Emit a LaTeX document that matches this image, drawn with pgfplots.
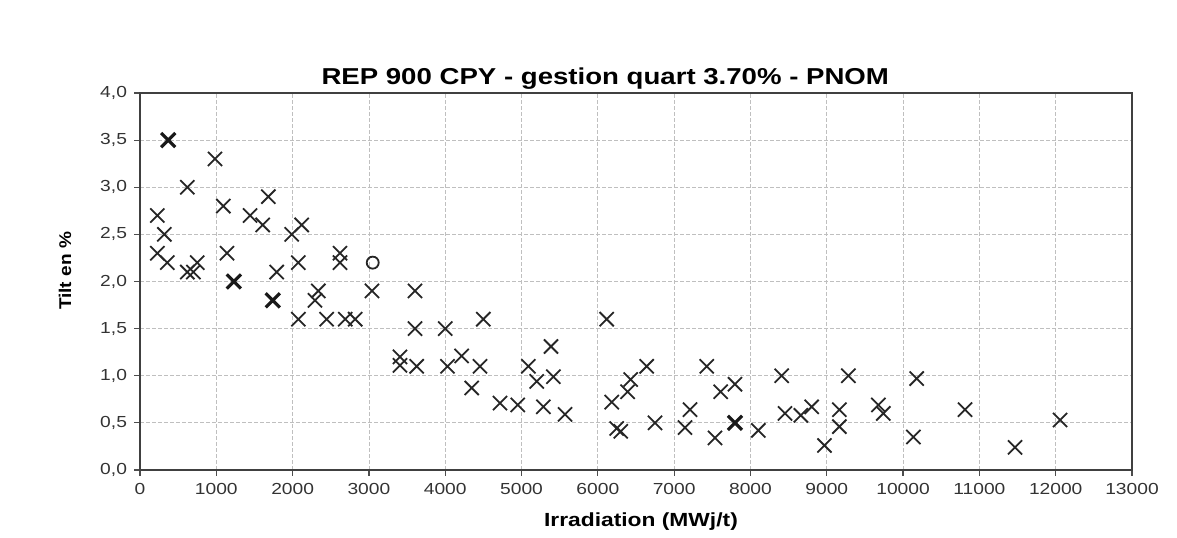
\documentclass[border=0pt]{standalone}
\usepackage{pgfplots}
\pgfplotsset{compat=1.18}
\usepackage{fontspec}
\setmainfont{Liberation Sans}
\newfontfamily\widefont[FakeStretch=1.2]{Liberation Sans}
\newfontfamily\labelfont[FakeStretch=1.12]{Liberation Sans}

\pgfplotstableread{
x y
227 2.7
319 2.5
227 2.3
358 2.2
983 3.3
620 3.0
1092 2.8
1682 2.9
1442 2.7
1608 2.6
1988 2.5
2119 2.6
1140 2.3
2075 2.2
2621 2.3
2621 2.2
620 2.1
700 2.1
750 2.2
1791 2.1
2337 1.9
2293 1.8
2075 1.6
2446 1.6
2690 1.6
2820 1.6
3040 1.9
3604 1.9
3604 1.5
4000 1.5
3407 1.2
3407 1.11
3626 1.1
4030 1.1
4215 1.21
4499 1.6
4456 1.1
4347 0.87
4718 0.71
4950 0.69
5090 1.1
5199 0.94
5286 0.67
5386 1.31
5417 0.99
5570 0.59
6116 1.6
6182 0.72
6247 0.44
6300 0.41
6390 0.83
6430 0.96
6640 1.1
6749 0.5
7142 0.45
7208 0.64
7427 1.1
7535 0.34
7610 0.83
7797 0.91
8103 0.42
8409 1.0
8453 0.6
8660 0.58
8802 0.67
8970 0.26
9283 1.0
9165 0.64
9165 0.46
9676 0.69
9741 0.6
10178 0.97
10135 0.35
10812 0.64
11467 0.24
12057 0.53
}\pointsA

% points drawn twice in the original (heavier crosses)
\pgfplotstableread{
x y
370 3.5
1230 2.0
1740 1.8
7797 0.5
}\pointsB

\begin{document}
\begin{tikzpicture}
\begin{axis}[
    scale only axis,
    width=496pt, height=188.5pt,
    xmin=0, xmax=13000, ymin=0, ymax=4,
    xtick={0,1000,...,13000},
    ytick={0,0.5,...,4},
    scaled x ticks=false,
    xticklabel style={/pgf/number format/.cd, 1000 sep={}},
    yticklabel style={/pgf/number format/.cd, fixed, fixed zerofill, precision=1, use comma},
    /pgf/number format/assume math mode=true,
    tick label style={font=\widefont\fontsize{8}{9}\selectfont, text=black!80},
    tick align=outside, xtick pos=left, ytick pos=left,
    major tick length=3pt,
    tick style={black!70, line width=0.6pt},
    grid=major,
    major grid style={black!25, line width=0.4pt, dash pattern=on 2pt off 1pt},
    axis line style={black!75, line width=0.9pt},
    title={REP 900 CPY - gestion quart 3.70\% - PNOM},
    title style={font=\widefont\fontsize{11.5}{13}\selectfont\bfseries, at={(axis description cs:0.469,1.0076)}, anchor=center},
    xlabel={Irradiation (MWj/t)},
    xlabel style={font=\widefont\fontsize{9.5}{11}\selectfont\bfseries, at={(axis description cs:0.505,-0.138)}, anchor=center},
    ylabel={Tilt en \%},
    ylabel style={font=\labelfont\fontsize{8.5}{10}\selectfont\bfseries, at={(axis description cs:-0.0756,0.528)}, anchor=center, rotate=0},
]
\addplot[only marks, mark=x, mark size=5pt, black!85, line width=0.9pt] table[x=x, y=y] {\pointsA};
\addplot[only marks, mark=x, mark size=5pt, black!90, line width=1.6pt] table[x=x, y=y] {\pointsB};
\addplot[only marks, mark=o, mark size=3pt, black!85, line width=0.9pt] coordinates {(3050,2.2)};
\end{axis}
\path (current axis.south west) ++(-70pt,-32.5pt) rectangle ([shift={(22.5pt,46.5pt)}]current axis.north east);
\end{tikzpicture}
\end{document}
